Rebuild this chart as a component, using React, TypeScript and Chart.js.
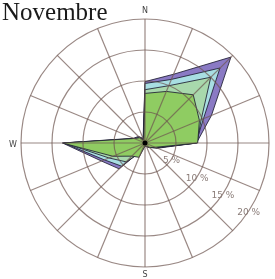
import React, { useEffect, useRef } from 'react';
import { Chart, registerables } from 'chart.js';
Chart.register(...registerables);

const directions = ['N', 'NNE', 'NE', 'ENE', 'E', 'ESE', 'SE', 'SSE', 'S', 'SSW', 'SW', 'WSW', 'W', 'WNW', 'NW', 'NNW'];
const axisLabels = ['N', '', '', '', 'E', '', '', '', 'S', '', '', '', 'W', '', '', ''];
const tickValues = [5, 10, 15, 20];
const tickLabels = ['5 %', '10 %', '15 %', '20 %'];

const purpleSeries = [9.9, 12.0, 19.6, 11.6, 8.3, 2.2, 1.0, 0.6, 0.4, 1.2, 5.9, 7.6, 13.3, 2.0, 1.5, 0.8];
const cyanSeries = [9.6, 11.1, 17.1, 10.2, 8.2, 2.0, 1.0, 0.6, 0.4, 1.1, 5.3, 7.1, 13.1, 1.8, 1.3, 0.7];
const paleSeries = [8.6, 10.0, 15.0, 9.8, 8.4, 2.0, 1.0, 0.6, 0.4, 1.6, 4.3, 6.3, 13.0, 1.7, 1.0, 0.6];
const greenSeries = [8.0, 9.0, 11.0, 9.5, 8.5, 1.8, 1.0, 0.6, 0.5, 2.5, 3.0, 5.6, 13.3, 1.9, 1.2, 0.5];

const overlay = {
  id: 'overlay',
  afterDraw(chart: any) {
    const s = chart.scales.r;
    const ctx = chart.ctx;
    ctx.save();
    ctx.font = '9px "DejaVu Sans"';
    ctx.fillStyle = '#8a7c78';
    ctx.textAlign = 'center';
    ctx.textBaseline = 'middle';
    const ang = (124 * Math.PI) / 180;
    tickValues.forEach((v, i) => {
      const r = s.getDistanceFromCenterForValue(v) + 1;
      ctx.fillText(tickLabels[i], s.xCenter + r * Math.sin(ang), s.yCenter - r * Math.cos(ang));
    });
    ctx.font = '8px "DejaVu Sans"';
    ctx.fillStyle = '#444';
    axisLabels.forEach((lab, i) => {
      if (!lab) return;
      const p = s.getPointPosition(i, s.drawingArea + 8);
      ctx.fillText(lab, p.x, p.y + (lab === 'W' ? 2 : 0));
    });
    ctx.fillStyle = '#000';
    ctx.beginPath();
    ctx.arc(s.xCenter, s.yCenter, 2.5, 0, Math.PI * 2);
    ctx.fill();
    ctx.font = '25px "Liberation Serif"';
    ctx.fillStyle = '#1a1a1a';
    ctx.textAlign = 'left';
    ctx.textBaseline = 'alphabetic';
    ctx.fillText('Novembre', 2, 20);
    ctx.restore();
  },
};

export default function App() {
  const ref = useRef<HTMLCanvasElement>(null);
  useEffect(() => {
    const mk = (label: string, data: number[], fill: string) => ({
      label,
      data,
      backgroundColor: fill,
      borderColor: 'rgba(30,30,50,0.85)',
      borderWidth: 1,
      pointRadius: 0,
      tension: 0,
      fill: true,
    });
    const chart = new Chart(ref.current!, {
      type: 'radar',
      data: {
        labels: directions,
        datasets: [
          mk('green', greenSeries, 'rgb(143,204,98)'),
          mk('pale', paleSeries, 'rgb(168,216,172)'),
          mk('cyan', cyanSeries, 'rgb(168,222,226)'),
          mk('purple', purpleSeries, 'rgb(138,122,196)'),
        ],
      },
      options: {
        animation: false,
        responsive: false,
        devicePixelRatio: 1,
        layout: { padding: { left: 21, right: 6, top: 19, bottom: 12 } },
        plugins: { legend: { display: false }, tooltip: { enabled: false } },
        scales: {
          r: {
            min: 0,
            max: 20,
            ticks: { display: false, stepSize: 5 },
            pointLabels: { display: false },
            grid: { circular: true, color: 'rgba(110,85,80,0.7)', lineWidth: 1.2, z: 1 },
            angleLines: { color: 'rgba(110,85,80,0.7)', lineWidth: 1.2 },
          },
        },
      },
      plugins: [overlay],
    });
    return () => chart.destroy();
  }, []);
  return (
    <div style={{ position: 'absolute', left: 0, top: 0, width: 275, height: 279, background: '#fff' }}>
      <canvas ref={ref} width={275} height={279} />
    </div>
  );
}
